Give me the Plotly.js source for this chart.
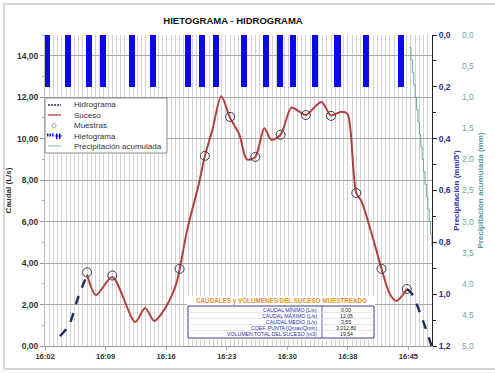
<!DOCTYPE html>
<html>
<head>
<meta charset="utf-8">
<script src="https://cdn.plot.ly/plotly-3.0.1.min.js"></script>
<style>
html,body{margin:0;padding:0;background:#fff;}
#wrap{position:relative;width:495px;height:373px;overflow:hidden;}
#chart{width:495px;height:373px;}
#frame{position:absolute;left:3px;top:3px;width:500px;height:363px;border:2px solid #d6d6d6;pointer-events:none;}
</style>
</head>
<body>
<div id="wrap"><div id="chart"></div><div id="frame"></div></div>
<script>
// ---------- DATA ----------
const DAY = '2020-01-01 ';
const chartTitle = 'HIETOGRAMA - HIDROGRAMA';

const hidroTimes  = ['16:03:47','16:04:51','16:05:49','16:07:00', null, '16:45:00','16:45:34','16:46:46','16:47:57'];
const hidroValues = [0.48, 1.00, 2.20, 3.45, null, 2.75, 2.55, 1.40, 0.00];

const sucesoTimes = ['16:07:00','16:08:04','16:10:00','16:12:43','16:13:54','16:14:59','16:16:24','16:17:36','16:18:00','16:18:54','16:20:20','16:21:00','16:21:53','16:22:57','16:24:00','16:25:06','16:26:00','16:27:00','16:28:04','16:28:54','16:30:00','16:31:17','16:32:14','16:33:00','16:34:51','16:36:00','16:37:14','16:37:57','16:38:19','16:39:00','16:39:36','16:41:24','16:42:00','16:43:00','16:43:47','16:45:00'];
const sucesoValues = [3.45, 2.46, 3.33, 1.16, 1.83, 1.21, 1.90, 3.00, 3.70, 5.60, 7.90, 9.17, 10.40, 12.05, 11.00, 10.20, 9.00, 9.12, 10.50, 9.95, 10.19, 11.50, 11.30, 11.14, 11.77, 11.12, 11.30, 11.20, 10.40, 7.38, 7.00, 4.60, 3.72, 2.50, 2.17, 2.75];

const muestrasTimes  = ['16:07:00','16:10:00','16:18:00','16:21:00','16:24:00','16:27:00','16:30:00','16:33:00','16:36:00','16:39:00','16:42:00','16:45:00'];
const muestrasValues = [3.55, 3.40, 3.72, 9.17, 11.05, 9.12, 10.19, 11.14, 11.10, 7.38, 3.72, 2.75];

const hietoTimes  = ['16:02:14','16:04:44','16:07:14','16:08:54','16:12:21','16:14:51','16:19:01','16:20:41','16:22:21','16:25:41','16:28:19','16:29:59','16:31:31','16:34:09','16:36:46','16:40:06','16:44:16'];
const hietoValues = [0.2,0.2,0.2,0.2,0.2,0.2,0.2,0.2,0.2,0.2,0.2,0.2,0.2,0.2,0.2,0.2,0.2];

const acumTimes  = ['16:45:20','16:45:30','16:45:40','16:45:50','16:46:00','16:46:10','16:46:20','16:46:30','16:46:40','16:46:50','16:47:00','16:47:10','16:47:20','16:47:30','16:47:40','16:47:50','16:48:00'];
const acumValues = [0.2,0.4,0.6,0.8,1.0,1.2,1.4,1.6,1.8,2.0,2.2,2.4,2.6,2.8,3.0,3.2,3.4];

const xTickVals = ['16:02:00','16:09:12','16:16:24','16:23:36','16:30:48','16:38:00','16:45:12'];
const xTickText = ['16:02','16:09','16:16','16:23','16:30','16:38','16:45'];

const legendLabels = ['Hidrograma','Suceso','Muestras','Hietograma','Precipitación acumulada'];

const tableTitle  = 'CAUDALES y VOLUMENES DEL SUCESO MUESTREADO';
const tableLabels = ['CAUDAL MÍNIMO (L/s)','CAUDAL MÁXIMO (L/s)','CAUDAL MEDIO (L/s)','COEF. PUNTA (Qmax/Qmin)','VOLUMEN TOTAL DEL SUCESO (m3)'];
const tableValues = ['0,00','12,05','3,55','3.012,80','19,54'];

// ---------- helpers ----------
const T = a => a.map(s => s === null ? null : DAY + s);
const FONT = 'Liberation Sans, Arial, sans-serif';

// plot area in px: left 45, right 432, top 35, bottom 346 ; paper width 445
const PL = 45, PW = 445, PB = 346, PH = 311;
const px = x => (x - PL) / PW;
const py = y => (PB - y) / PH;

const traces = [
  {name: legendLabels[0], x: T(hidroTimes), y: hidroValues, type:'scatter', mode:'lines',
   line:{color:'#1f2a5c', width:2.4, dash:'dash', shape:'spline', smoothing:0.8}, connectgaps:false, showlegend:false},
  {name: legendLabels[1], x: T(sucesoTimes), y: sucesoValues, type:'scatter', mode:'lines',
   line:{color:'#b2413d', width:2, shape:'spline', smoothing:0.8}, showlegend:false},
  {name: legendLabels[2], x: T(muestrasTimes), y: muestrasValues, type:'scatter', mode:'markers',
   marker:{symbol:'circle-open', size:9, color:'#3d3d55', line:{width:1}}, showlegend:false},
  {name: legendLabels[3], x: T(hietoTimes), y: hietoValues, type:'bar', yaxis:'y2',
   width: 43000, marker:{color:'#0a0ae6', line:{width:0}}, showlegend:false},
  {name: legendLabels[4], x: T(acumTimes), y: acumValues, type:'scatter', mode:'lines', yaxis:'y3',
   line:{color:'#6aa5a5', width:1, shape:'hv'}, showlegend:false}
];

// ---------- legend (drawn box) ----------
const shapes = [];
const annotations = [];
const legRows = [105, 115, 125.5, 136, 146];
shapes.push({type:'rect', xref:'paper', yref:'paper', x0:px(45), x1:px(167), y0:py(153), y1:py(98),
  fillcolor:'#ffffff', line:{color:'#8a8a8a', width:1}, layer:'above'});
shapes.push({type:'line', xref:'paper', yref:'paper', x0:px(48), x1:px(61), y0:py(legRows[0]), y1:py(legRows[0]),
  line:{color:'#1f2a5c', width:1.6, dash:'2px,1px'}, layer:'above'});
shapes.push({type:'line', xref:'paper', yref:'paper', x0:px(48), x1:px(61), y0:py(legRows[1]), y1:py(legRows[1]),
  line:{color:'#b2413d', width:1.3}, layer:'above'});
shapes.push({type:'circle', xref:'paper', yref:'paper', x0:px(52), x1:px(56), y0:py(legRows[2]+2), y1:py(legRows[2]-2),
  line:{color:'#a8a8c4', width:1}, layer:'above'});
[[47,48.5],[49.5,51],[52,53.5],[56,57.5],[59,60.5]].forEach(([a,b],i)=>{
  shapes.push({type:'rect', xref:'paper', yref:'paper', x0:px(a), x1:px(b),
    y0:py(legRows[3] + (i>=3 ? 3 : 0.5)), y1:py(legRows[3]-2.5), fillcolor:'#1010c8', line:{width:0}, layer:'above'});
});
shapes.push({type:'rect', xref:'paper', yref:'paper', x0:px(55), x1:px(62), y0:py(legRows[3]+0.5), y1:py(legRows[3]-0.5),
  fillcolor:'#1010c8', line:{width:0}, layer:'above'});
shapes.push({type:'line', xref:'paper', yref:'paper', x0:px(48), x1:px(61), y0:py(legRows[4]), y1:py(legRows[4]),
  line:{color:'#7fb4b4', width:1}, layer:'above'});
legendLabels.forEach((t,i)=>annotations.push({text:t, xref:'paper', yref:'paper', x:px(72), y:py(legRows[i]),
  xanchor:'left', yanchor:'middle', showarrow:false, font:{family:FONT, size:8, color:'#333'}}));

// ---------- summary table ----------
shapes.push({type:'rect', xref:'paper', yref:'paper', x0:px(187), x1:px(375), y0:py(339.5), y1:py(296),
  fillcolor:'#ffffff', line:{width:0}, layer:'above'});
shapes.push({type:'rect', xref:'paper', yref:'paper', x0:px(188), x1:px(374), y0:py(338), y1:py(306),
  fillcolor:'rgba(0,0,0,0)', line:{color:'#3b3b8e', width:1}, layer:'above'});
shapes.push({type:'line', xref:'paper', yref:'paper', x0:px(322), x1:px(322), y0:py(338), y1:py(306),
  line:{color:'#3b3b8e', width:0.8}, layer:'above'});
const rowY = [309.5, 315.5, 321.5, 327.5, 333.5];
[312.5, 318.5, 324.5, 330.5].forEach(y=>shapes.push({type:'line', xref:'paper', yref:'paper', x0:px(188), x1:px(374),
  y0:py(y), y1:py(y), line:{color:'#d6d6e6', width:0.6}, layer:'above'}));
annotations.push({text:'<b>'+tableTitle+'</b>', xref:'paper', yref:'paper', x:px(281), y:py(300.5),
  xanchor:'center', yanchor:'middle', showarrow:false, font:{family:FONT, size:6.3, color:'#e8922a'}});
tableLabels.forEach((t,i)=>{
  annotations.push({text:t, xref:'paper', yref:'paper', x:px(319), y:py(rowY[i]), xanchor:'right', yanchor:'middle',
    showarrow:false, font:{family:FONT, size:5.2, color:'#2c2ca0'}});
  annotations.push({text:tableValues[i], xref:'paper', yref:'paper', x:px(346), y:py(rowY[i]), xanchor:'center', yanchor:'middle',
    showarrow:false, font:{family:FONT, size:5.2, color:'#222'}});
});

const layout = {
  width:495, height:373,
  margin:{l:45, r:5, t:35, b:27, pad:0},
  paper_bgcolor:'#ffffff', plot_bgcolor:'#ffffff',
  separators:',.',
  font:{family:FONT, size:8, color:'#333'},
  showlegend:false,
  title:{text:'<b>'+chartTitle+'</b>', xref:'paper', x:px(233), xanchor:'center', yref:'container', y:1-21/373, yanchor:'middle',
    font:{family:FONT, size:9.5, color:'#111'}},
  xaxis:{type:'date', domain:[0, 387/445], range:[DAY+'16:02:00', DAY+'16:48:00'],
    tickmode:'array', tickvals:T(xTickVals), ticktext:xTickText,
    showgrid:false, showline:true, linecolor:'#999', linewidth:1, ticks:'outside', ticklen:3, tickcolor:'#aaa',
    tickfont:{family:FONT, size:7.5, color:'#333', weight:'bold'},
    minor:{dtick:30000, tick0:DAY+'16:02:00', showgrid:true, gridcolor:'#d2d2d2', gridwidth:1, ticks:''},
    zeroline:false, fixedrange:true},
  yaxis:{range:[0,15], tickmode:'array', tickvals:[0,2,4,6,8,10,12,14], tickformat:'.2f',
    showgrid:true, gridcolor:'#a8a8a8', gridwidth:1, zeroline:false,
    showline:true, linecolor:'#bbb', ticks:'outside', ticklen:4, tickcolor:'#999',
    minor:{dtick:1, ticks:'outside', ticklen:2, tickcolor:'#aaa', showgrid:false},
    tickfont:{family:FONT, size:8.5, color:'#333', weight:'bold'},
    title:{text:'<b>Caudal (L/s)</b>', font:{family:FONT, size:8, color:'#333'}, standoff:4}},
  yaxis2:{overlaying:'y', side:'right', anchor:'x', range:[1.2,0], tickmode:'array', tickvals:[0,0.2,0.4,0.6,0.8,1.0,1.2], tickformat:'.1f',
    showgrid:false, zeroline:false, showline:true, linecolor:'#222', linewidth:1,
    ticks:'outside', ticklen:4, tickcolor:'#222',
    minor:{dtick:0.1, ticks:'outside', ticklen:3, tickcolor:'#222', showgrid:false},
    tickfont:{family:FONT, size:8.5, color:'#2e2e90', weight:'bold'},
    title:{text:"<b>Precipitación (mm/5')</b>", font:{family:FONT, size:8, color:'#3333a8'}, standoff:3}},
  yaxis3:{overlaying:'y', side:'right', anchor:'free', position:px(461), range:[5,0], tickmode:'array',
    tickvals:[0,0.5,1,1.5,2,2.5,3,3.5,4,4.5,5], tickformat:'.1f',
    showgrid:false, zeroline:false, showline:false, ticks:'',
    tickfont:{family:FONT, size:8.5, color:'#6fa6a6'},
    title:{text:'<b>Precipitación acumulada (mm)</b>', font:{family:FONT, size:8, color:'#5c9c9c'}, standoff:4}},
  bargap:0,
  shapes:shapes,
  annotations:annotations
};

Plotly.newPlot('chart', traces, layout, {staticPlot:true, displayModeBar:false});
</script>
</body>
</html>
